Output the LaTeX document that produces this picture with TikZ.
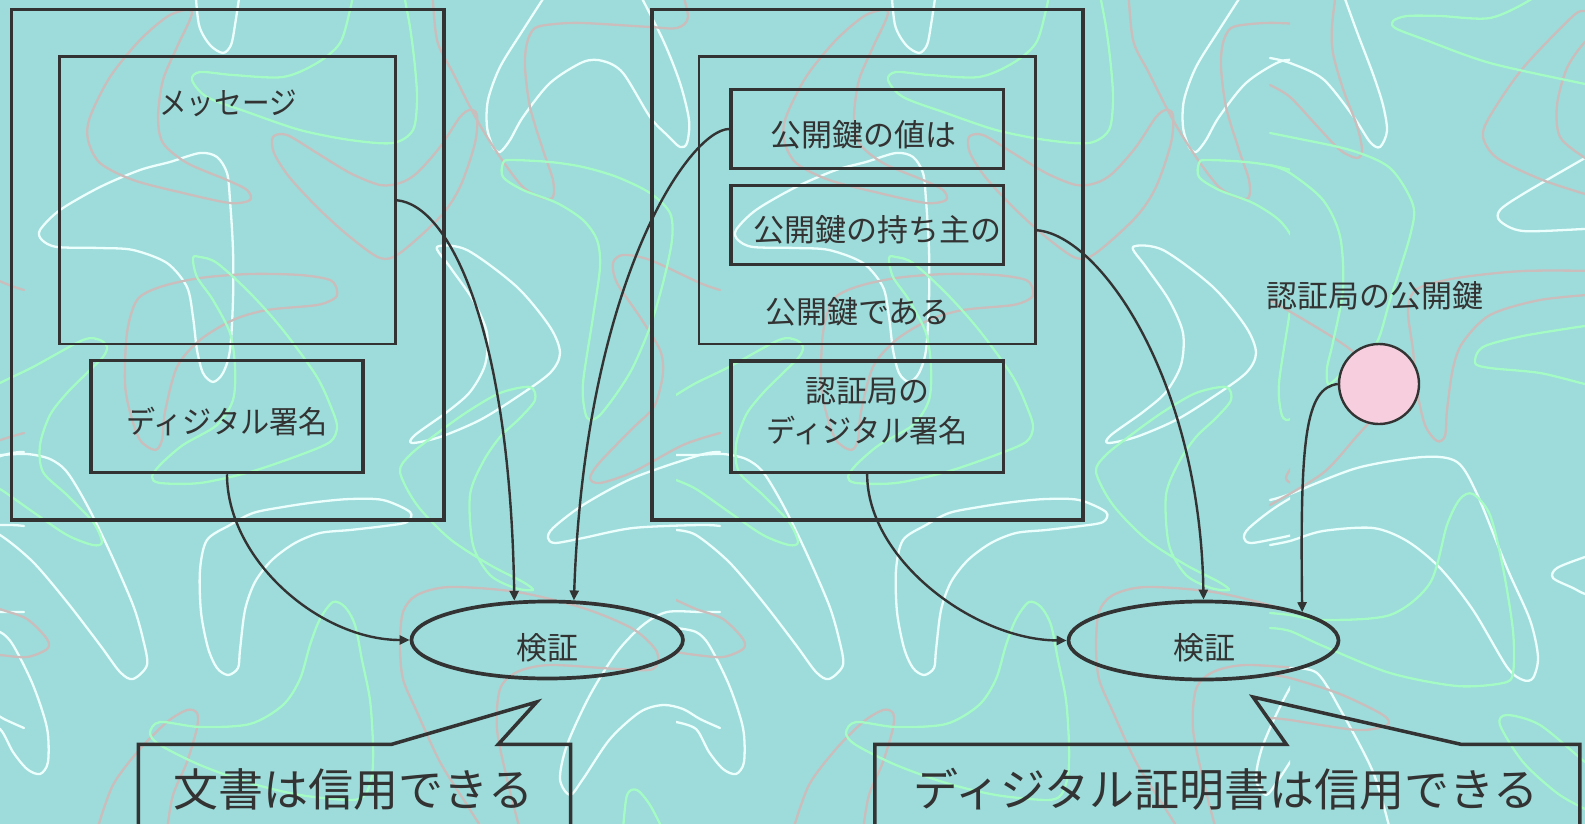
\documentclass[tikz,border=0pt]{standalone}
\usepackage{fontspec}
\newfontfamily\jp{Noto Sans CJK JP}
\newfontfamily\jpnarrow[FakeStretch=0.89]{Noto Sans CJK JP}
\newfontfamily\jpsemi[FakeStretch=0.94]{Noto Sans CJK JP}
\usetikzlibrary{shapes.geometric,arrows.meta,calc}
\definecolor{bg}{HTML}{9DDCDA}
\definecolor{ink}{HTML}{333333}
\definecolor{wc}{HTML}{EDFFFD}
\definecolor{pc}{HTML}{CABDBC}
\definecolor{gc}{HTML}{A4FBC4}
\definecolor{pinkfill}{HTML}{F6CEDE}
\newcommand\mytile{%
% white
\draw[deco,wc] plot[smooth] coordinates {(195,-15)(199,25)(210,45)(223,53)(231,45)(235,25)(241,-15)};
\draw[deco,wc] plot[smooth cycle] coordinates {(40,230)(60,210)(100,187)(140,170)(170,162)(200,153)(217,157)(227,173)(230,200)(233,250)(233,300)(230,350)(223,373)(213,382)(203,373)(197,350)(193,317)(187,287)(167,263)(133,250)(100,248)(57,247)(42,240)};
\draw[deco,wc] plot[smooth] coordinates {(552,-15)(523,30)(500,67)(488,100)(487,127)(493,147)(500,152)(510,140)(523,117)(550,83)(583,62)(603,61)(623,73)(650,117)(667,135)(680,147)(687,143)(689,120)(680,83)(663,40)(635,-15)};
\draw[deco,wc] plot[smooth cycle] coordinates {(437,247)(467,250)(517,287)(550,327)(560,353)(550,373)(517,397)(480,420)(440,437)(412,443)(415,435)(447,412)(470,392)(485,365)(487,333)(473,300)(450,267)};
\draw[deco,wc] plot[smooth] coordinates {(720,452)(700,455)(633,478)(583,505)(553,528)(548,538)(555,543)(583,538)(633,528)(700,525)(720,526)};
\draw[deco,wc] plot[smooth] coordinates {(-20,455)(0,455)(27,454)(50,459)(67,472)(87,505)(110,552)(133,605)(143,639)(147,665)(133,679)(120,672)(100,645)(67,602)(33,562)(0,535)(-20,530)};
\draw[deco,wc] plot[smooth cycle] coordinates {(410,512)(383,500)(350,499)(317,502)(283,507)(253,513)(230,525)(207,540)(200,570)(201,612)(208,648)(217,668)(228,675)(238,668)(240,650)(245,610)(255,582)(272,560)(295,543)(320,533)(350,530)(385,526)(407,522)};
\draw[deco,wc] plot[smooth] coordinates {(-20,628)(0,632)(13,645)(33,685)(47,728)(48,762)(40,774)(27,769)(13,752)(0,729)(-20,722)};
\draw[deco,wc] plot[smooth] coordinates {(720,612)(700,612)(667,612)(643,625)(617,652)(590,695)(567,745)(560,779)(570,795)(583,779)(610,739)(640,712)(663,705)(683,709)(700,719)(720,728)};
% pink
\draw[deco,pc] plot[smooth cycle] coordinates {(192,12)(170,15)(140,40)(110,77)(90,117)(88,140)(100,163)(133,180)(183,193)(230,203)(250,200)(247,190)(227,180)(187,163)(163,143)(158,117)(163,80)(177,47)};
\draw[deco,pc] plot[smooth cycle] coordinates {(273,137)(274,153)(290,178)(320,210)(350,237)(380,258)(400,253)(440,217)(460,187)(475,143)(477,115)(470,110)(460,117)(440,147)(417,173)(400,183)(380,185)(350,173)(317,153)(287,135)};
\draw[deco,pc] plot[smooth cycle] coordinates {(337,290)(330,280)(300,275)(250,274)(200,278)(160,287)(137,300)(127,333)(125,383)(130,412)(140,440)(155,450)(162,440)(165,412)(177,367)(200,340)(233,320)(267,310)(317,305)(335,298)};
\draw[deco,pc] plot[smooth] coordinates {(432,-15)(437,40)(453,73)(477,120)(500,157)(523,187)(543,198)(553,197)(553,180)(543,150)(530,107)(525,67)(527,43)(535,28)(555,24)(583,23)(650,27)(677,28)(688,17)(680,-15)};
\draw[deco,pc] plot[smooth] coordinates {(720,290)(700,283)(650,260)(623,255)(613,263)(617,283)(640,317)(660,350)(663,373)(657,400)(650,412)(633,428)(600,462)(590,478)(600,483)(633,472)(683,445)(720,433)};
\draw[deco,pc] plot[smooth] coordinates {(-20,600)(0,609)(27,619)(47,639)(47,649)(27,657)(0,655)(-20,652)};
\draw[deco,pc] plot[smooth] coordinates {(97,830)(113,785)(140,749)(167,722)(187,710)(197,713)(197,728)(187,762)(173,795)(167,830)};
\draw[deco,pc] plot[smooth] coordinates {(520,830)(507,779)(497,729)(500,689)(517,672)(550,665)(617,669)(653,669)(657,652)(633,629)(583,608)(517,592)(450,587)(417,595)(403,612)(400,645)(403,679)(417,712)(440,762)(467,805)(483,830)};
% green
\draw[deco,gc] plot[smooth] coordinates {(355,-15)(350,10)(340,43)(317,63)(283,77)(233,75)(200,72)(192,80)(207,97)(250,113)(300,130)(350,140)(393,143)(413,130)(417,100)(415,67)(410,27)(402,-15)};
\draw[deco,gc] plot[smooth cycle] coordinates {(193,258)(200,257)(217,263)(250,293)(283,330)(317,377)(333,412)(337,428)(330,442)(300,455)(250,472)(200,483)(160,483)(152,477)(160,465)(183,445)(217,425)(233,400)(235,367)(230,333)(213,300)(197,277)};
\draw[deco,gc] plot[smooth] coordinates {(-20,395)(0,383)(33,367)(83,340)(100,340)(107,347)(103,357)(87,373)(67,393)(50,415)(40,445)(43,472)(67,495)(93,522)(102,542)(93,545)(67,535)(33,512)(0,489)(-20,480)};
\draw[deco,gc] plot[smooth cycle] coordinates {(503,163)(510,160)(550,162)(583,167)(617,177)(650,193)(670,213)(672,240)(663,283)(650,327)(633,367)(617,393)(600,415)(590,420)(585,412)(583,383)(593,317)(600,267)(597,240)(583,220)(557,203)(523,190)(503,177)};
\draw[deco,gc] plot[smooth cycle] coordinates {(333,602)(345,607)(355,625)(362,660)(370,700)(373,745)(372,775)(365,795)(350,800)(300,795)(250,783)(200,765)(160,745)(150,733)(160,722)(200,727)(250,724)(283,705)(300,679)(310,645)(320,619)};
\draw[deco,gc] plot[smooth] coordinates {(623,830)(627,795)(637,790)(650,805)(663,830)};
\draw[deco,gc] plot[smooth cycle] coordinates {(530,387)(500,393)(467,412)(435,435)(410,455)(400,472)(417,505)(450,539)(490,565)(523,582)(533,590)(515,588)(490,575)(473,545)(470,495)(483,462)(500,437)(520,418)(535,400)};
}
\begin{document}
\begin{tikzpicture}[x=1pt,y=-1pt,
  deco/.style={line width=2.3pt,line cap=round,line join=round},
  boxA/.style={draw=ink,line width=3.7pt,inner sep=0pt,rectangle},
  boxB/.style={draw=ink,line width=2.6pt,inner sep=0pt,rectangle},
  boxC/.style={draw=ink,line width=3.5pt,inner sep=0pt,rectangle},
  oval/.style={draw=ink,line width=3.7pt,ellipse,inner sep=0pt},
  lbl/.style={text=ink,inner sep=0pt,font=\jp\fontsize{31pt}{36pt}\selectfont,text height=25.7pt,text depth=2.2pt},
  lblnarrow/.style={lbl,font=\jpnarrow\fontsize{31pt}{36pt}\selectfont},
  lblsemi/.style={lbl,font=\jpsemi\fontsize{31pt}{36pt}\selectfont},
  big/.style={text=ink,inner sep=0pt,font=\jp\fontsize{45pt}{54pt}\selectfont,text height=37.3pt,text depth=3.2pt},
  conn/.style={draw=ink,line width=2.4pt,-{Triangle[length=10pt,width=9pt]}},
  callout/.style={draw=ink,line width=3.5pt,line join=miter}]
\useasboundingbox (0,0) rectangle (1585,824);
\fill[bg] (0,0) rectangle (1585,824);
% background squiggles
\begin{scope}
\clip (0,0) rectangle (1585,824);
\begin{scope}[shift={(-696,0)}]\mytile\end{scope}
\mytile
\begin{scope}
\clip (676,-20) rectangle (1290,850);
\begin{scope}[shift={(696,0)}]\mytile\end{scope}
\end{scope}
% right strip
\draw[deco,wc] plot[smooth] coordinates {(1340,-15)(1357,32)(1373,74)(1383,105)(1387,131)(1380,147)(1370,142)(1353,116)(1323,79)(1290,63)(1270,58)};
\draw[deco,wc] plot[smooth] coordinates {(1600,150)(1585,158)(1523,194)(1500,210)(1500,221)(1523,231)(1585,229)(1600,229)};
\draw[deco,wc] plot[smooth] coordinates {(1600,553)(1585,557)(1557,568)(1553,578)(1573,588)(1585,594)(1600,597)};
\draw[deco,wc] plot[smooth] coordinates {(1270,500)(1290,494)(1357,468)(1423,457)(1457,462)(1477,494)(1507,568)(1530,620)(1538,657)(1533,678)(1523,680)(1507,667)(1473,610)(1440,568)(1407,541)(1373,528)(1323,531)(1290,541)(1270,545)};
\draw[deco,wc] plot[smooth] coordinates {(1290,668)(1317,673)(1340,709)(1373,772)(1390,830)};
\draw[deco,pc] plot[smooth] coordinates {(1337,-15)(1332,26)(1333,53)(1343,89)(1357,126)(1362,150)(1357,158)(1340,150)(1317,126)(1290,97)(1270,85)};
\draw[deco,pc] plot[smooth] coordinates {(1600,5)(1585,11)(1573,16)(1523,68)(1490,116)(1483,137)(1497,158)(1540,179)(1585,194)(1600,197)};
\draw[deco,pc] plot[smooth] coordinates {(1600,35)(1585,42)(1567,68)(1557,105)(1560,137)(1585,158)(1600,165)};
\draw[deco,pc] plot[smooth] coordinates {(1270,300)(1340,342)(1395,385)};
\draw[deco,pc] plot[smooth] coordinates {(1270,505)(1323,473)(1357,436)(1385,405)};
\draw[deco,pc] plot[smooth] coordinates {(1600,271)(1523,271)(1457,278)(1417,289)(1408,310)(1413,350)(1417,390)(1425,425)(1437,441)(1445,436)(1447,410)(1453,368)(1463,342)(1490,315)(1540,300)(1600,294)};
\draw[deco,pc] plot[smooth] coordinates {(1270,675)(1290,678)(1340,694)(1383,715)(1387,725)(1357,730)(1290,720)(1270,718)};
\draw[deco,gc] plot[smooth] coordinates {(1545,-15)(1530,0)(1490,18)(1440,16)(1407,16)(1393,21)(1395,28)(1423,39)(1490,63)(1585,84)(1600,87)};
\draw[deco,gc] plot[smooth] coordinates {(1270,133)(1290,137)(1350,150)(1390,168)(1413,205)(1410,236)(1390,300)(1377,342)(1357,357)(1337,378)(1328,384)(1327,368)(1333,342)(1343,289)(1340,236)(1323,200)(1290,173)(1270,165)};
\draw[deco,gc] plot[smooth] coordinates {(1600,325)(1585,326)(1523,336)(1483,347)(1475,363)(1490,368)(1540,373)(1585,384)(1600,386)};
\draw[deco,gc] plot[smooth] coordinates {(1270,613)(1290,615)(1323,620)(1390,615)(1430,583)(1447,525)(1460,499)(1473,494)(1490,515)(1503,568)(1513,631)(1513,673)(1503,683)(1457,686)(1390,673)(1323,646)(1290,631)(1270,628)};
\draw[deco,gc] plot[smooth] coordinates {(1600,770)(1585,762)(1540,725)(1507,715)(1500,725)(1523,762)(1557,793)(1585,809)(1600,815)};
\end{scope}
% left document
\node[boxA,minimum width=432.5pt,minimum height=510.5pt] (outer1) at (227.75,264.75) {};
\node[boxB,minimum width=336pt,minimum height=287.5pt] (msg) at (227.5,200.25) {};
\node[boxC,minimum width=272pt,minimum height=112pt] (ds) at (227,416.5) {};
\node[lblnarrow] (tmsg) at (228,103) {メッセージ};
\node[lblsemi] (tds) at (227,422) {ディジタル署名};
% certificate
\node[boxA,minimum width=431.3pt,minimum height=510.5pt] (outer2) at (867.35,264.75) {};
\node[boxB,minimum width=336.4pt,minimum height=287.5pt] (inner2) at (867.2,200.25) {};
\node[boxC,minimum width=272.3pt,minimum height=78.8pt] (pk1) at (867.15,129) {};
\node[boxC,minimum width=272.3pt,minimum height=79.1pt] (pk2) at (867.15,224.85) {};
\node[boxC,minimum width=272.3pt,minimum height=111.3pt] (ca) at (867.15,416.65) {};
\node[lbl] (tpk1) at (863,135) {公開鍵の値は};
\node[lbl] (tpk2) at (877,230) {公開鍵の持ち主の};
\node[lbl] (tpk3) at (858,312) {公開鍵である};
\node[lbl] (tca1) at (867,391) {認証局の};
\node[lblsemi] (tca2) at (867,431) {ディジタル署名};
% verification ellipses
\node[oval,minimum width=271.5pt,minimum height=77pt] (e1) at (547.2,640) {};
\node[oval,minimum width=270pt,minimum height=78pt] (e2) at (1203.5,640.5) {};
\node[lbl] (te1) at (547.5,648) {検証};
\node[lbl] (te2) at (1204,648) {検証};
% CA public key
\node[circle,draw=ink,fill=pinkfill,line width=2.4pt,minimum size=80pt,inner sep=0pt] (circ) at (1379,384) {};
\node[lbl] (tkey) at (1375,296) {認証局の公開鍵};
% connectors
\draw[conn] (msg.east) .. controls (450,205) and (510,330) .. (e1.130);
\draw[conn] (ds.south) .. controls (227,560) and (320,640) .. (e1.west);
\draw[conn] (pk1.west) .. controls (690,129) and (585,280) .. (e1.56);
\draw[conn] ([yshift=-30pt]inner2.east) .. controls (1100,235) and (1200,380) .. (e2.north);
\draw[conn] (ca.south) .. controls (867,560) and (975,640) .. (e2.west);
\draw[conn] (circ.west) .. controls (1305,388) and (1300,440) .. (e2.16);
% callouts
\draw[callout] (138.3,830) -- (138.3,744.3) -- (391.7,744.3) -- (536.7,702) -- (498.3,744.3) -- (570.7,744.3) -- (570.7,830);
\node[big] (tb1) at (353.5,789) {文書は信用できる};
\draw[callout] (874.8,830) -- (874.8,744.3) -- (1286.3,744.3) -- (1253,697) -- (1461,744.3) -- (1579.8,744.3) -- (1579.8,830);
\node[big] (tb2) at (1226,789) {ディジタル証明書は信用できる};
\end{tikzpicture}
\end{document}
